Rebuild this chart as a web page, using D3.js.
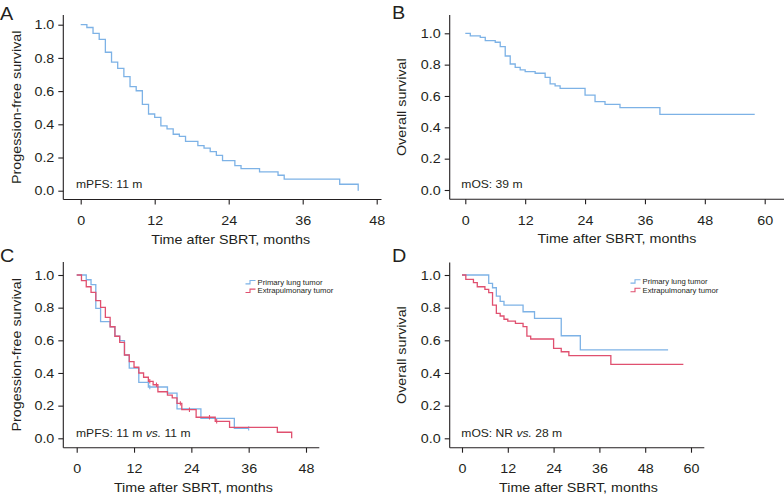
<!DOCTYPE html>
<html><head><meta charset="utf-8">
<script src="https://cdn.jsdelivr.net/npm/d3@7"></script>
<style>
body{margin:0;background:#fff}
svg{display:block}
text{font-family:"Liberation Sans",Arial,Helvetica,sans-serif;fill:#231f20}
</style>
</head><body>
<svg id="chart" width="784" height="498"></svg>
<script>
// ---------------- data ----------------
const yTicks = [0, 0.2, 0.4, 0.6, 0.8, 1.0];
const xTicksPFS = [0, 12, 24, 36, 48];
const xTicksOS = [0, 12, 24, 36, 48, 60];

// A: progression-free survival, all patients
const pfsAllTime = [0, 1, 2, 3, 4, 5, 6, 7, 8, 9, 10, 11, 12, 13, 14, 15, 16, 17, 19, 20, 21, 22, 23, 25, 26, 29, 32, 33, 42, 45];
const pfsAllSurv = [1.0, 0.983, 0.948, 0.912, 0.834, 0.775, 0.737, 0.687, 0.627, 0.602, 0.520, 0.462, 0.442, 0.390, 0.372, 0.340, 0.327, 0.297, 0.271, 0.257, 0.235, 0.213, 0.181, 0.151, 0.133, 0.113, 0.093, 0.070, 0.039, 0.0];
const pfsAllEnd = 45;

// B: overall survival, all patients
const osAllTime = [0, 1, 3, 4, 6, 7, 8, 9, 10, 11, 12, 14, 16, 17, 18, 19, 24, 26, 28, 31, 39];
const osAllSurv = [1.0, 0.983, 0.974, 0.953, 0.943, 0.915, 0.855, 0.804, 0.783, 0.766, 0.755, 0.745, 0.719, 0.677, 0.664, 0.649, 0.606, 0.564, 0.547, 0.526, 0.483];
const osAllEnd = 58;

// C: progression-free survival by tumor type
const pfsLungTime = [0, 2, 3, 4, 5, 7, 8, 9, 10, 11, 13, 15, 19, 21, 26, 33];
const pfsLungSurv = [1.0, 0.971, 0.941, 0.796, 0.714, 0.683, 0.625, 0.598, 0.510, 0.430, 0.343, 0.314, 0.277, 0.180, 0.122, 0.061];
const pfsLungEnd = 36;
const pfsLungCensor = [15.3, 36];

const pfsExtraTime = [0, 1, 2, 3, 4, 5, 6, 7, 8, 9, 10, 11, 12, 13, 14, 15, 16, 17, 19, 20, 21, 22, 25, 29, 32, 42, 45];
const pfsExtraSurv = [1.0, 0.965, 0.928, 0.894, 0.843, 0.802, 0.741, 0.683, 0.625, 0.588, 0.510, 0.469, 0.435, 0.400, 0.374, 0.349, 0.328, 0.285, 0.265, 0.247, 0.214, 0.175, 0.129, 0.104, 0.067, 0.037, 0.0];
const pfsExtraEnd = 45;
const pfsExtraCensor = [15.3, 16.7, 21.7, 23.6, 27.8, 29.3];

// D: overall survival by tumor type
const osLungTime = [0, 7, 8, 9, 10, 11, 16, 19, 26, 31];
const osLungSurv = [1.0, 0.949, 0.922, 0.871, 0.839, 0.816, 0.775, 0.735, 0.628, 0.541];
const osLungEnd = 54;

const osExtraTime = [0, 1, 3, 4, 6, 7, 8, 9, 10, 11, 12, 14, 16, 17, 18, 24, 26, 28, 39];
const osExtraSurv = [1.0, 0.973, 0.953, 0.928, 0.912, 0.892, 0.816, 0.765, 0.749, 0.729, 0.718, 0.704, 0.684, 0.626, 0.608, 0.551, 0.530, 0.506, 0.453];
const osExtraEnd = 58;

const legendLabels = ["Primary lung tumor", "Extrapulmonary tumor"];

// ---------------- styles ----------------
const BLUE = "#7db2e6";
const RED = "#e0506f";
const INK = "#231f20";
const STRETCH = 1.1;

const svg = d3.select("#chart");

function survAt(times, surv, t) {
  const i = d3.bisectRight(times, t) - 1;
  return surv[Math.max(0, i)];
}

const panels = [
  {letter: "A", lx: 0, ly: 20, ytitle: "Progession-free survival",
   xr: [80.7, 376.7], xMax: 48, yr: [190.7, 24.7], frame: {l: 63.3, r: 381.5, t: 15, b: 199.5},
   xTicks: xTicksPFS, ytx: 21, note: ["mPFS: 11 m"], nx: 76, ny: 188,
   series: [{time: pfsAllTime, surv: pfsAllSurv, end: pfsAllEnd, color: BLUE}]},
  {letter: "B", lx: 392, ly: 18.5, ytitle: "Overall survival",
   xr: [465.3, 764.7], xMax: 60, yr: [190, 33.3], frame: {l: 449.7, r: 784, t: 15, b: 199.3},
   xTicks: xTicksOS, ytx: 406, note: ["mOS: 39 m"], nx: 461.3, ny: 188,
   series: [{time: osAllTime, surv: osAllSurv, end: osAllEnd, color: BLUE}]},
  {letter: "C", lx: 0, ly: 262, ytitle: "Progession-free survival",
   xr: [76.7, 306], xMax: 48, yr: [438.3, 275], frame: {l: 63.3, r: 319.3, t: 262, b: 447.7},
   xTicks: xTicksPFS, ytx: 21, note: ["mPFS: 11 m ", "vs.", " 11 m"], nx: 76, ny: 436.7,
   legend: {x: 245.5, y: 282.3},
   series: [{time: pfsLungTime, surv: pfsLungSurv, end: pfsLungEnd, color: BLUE, censor: pfsLungCensor},
            {time: pfsExtraTime, surv: pfsExtraSurv, end: pfsExtraEnd, color: RED, censor: pfsExtraCensor}]},
  {letter: "D", lx: 392, ly: 262, ytitle: "Overall survival",
   xr: [462, 691], xMax: 60, yr: [438.3, 275], frame: {l: 449.7, r: 704.3, t: 262.5, b: 447.7},
   xTicks: xTicksOS, ytx: 406, note: ["mOS: NR ", "vs.", " 28 m"], nx: 461.3, ny: 436.7,
   legend: {x: 630.5, y: 281.5},
   series: [{time: osLungTime, surv: osLungSurv, end: osLungEnd, color: BLUE},
            {time: osExtraTime, surv: osExtraSurv, end: osExtraEnd, color: RED}]}
];

panels.forEach(p => {
  const g = svg.append("g");
  const x = d3.scaleLinear().domain([0, p.xMax]).range(p.xr);
  const y = d3.scaleLinear().domain([0, 1]).range(p.yr);
  const f = p.frame;

  // axis lines (L-shaped frame)
  g.append("line").attr("x1", f.l).attr("x2", f.l).attr("y1", f.t).attr("y2", f.b)
    .attr("stroke", INK).attr("stroke-width", 1.1);
  g.append("line").attr("x1", f.l).attr("x2", f.r).attr("y1", f.b).attr("y2", f.b)
    .attr("stroke", INK).attr("stroke-width", 1.1);

  // y axis ticks
  const ya = g.append("g").attr("transform", `translate(${f.l},0)`)
    .call(d3.axisLeft(y).tickValues(yTicks).tickFormat(d3.format(".1f")).tickSize(5).tickPadding(4).tickSizeOuter(0));
  ya.select(".domain").remove();
  ya.selectAll("line").attr("stroke", INK).attr("stroke-width", 1.1);
  ya.selectAll("text").attr("font-size", 13).attr("font-family", null).style("fill", INK);

  // x axis ticks
  const xa = g.append("g").attr("transform", `translate(0,${f.b})`)
    .call(d3.axisBottom(x).tickValues(p.xTicks).tickSize(5).tickPadding(11).tickSizeOuter(0));
  xa.select(".domain").remove();
  xa.selectAll("line").attr("stroke", INK).attr("stroke-width", 1.1);
  xa.selectAll("text").attr("font-size", 13).attr("font-family", null).style("fill", INK);

  // axis titles
  g.append("text").attr("class", "st")
    .attr("x", x(p.xMax / 2) + 2).attr("y", f.b + 44)
    .attr("text-anchor", "middle").attr("font-size", 13)
    .text("Time after SBRT, months");
  g.append("text").attr("class", "st")
    .attr("transform", `translate(${p.ytx},${(f.t + f.b) / 2}) rotate(-90)`)
    .attr("text-anchor", "middle").attr("font-size", 13)
    .text(p.ytitle);

  // panel letter
  g.append("text").attr("class", "st").attr("x", p.lx).attr("y", p.ly)
    .attr("font-size", 18).text(p.letter);

  // annotation
  const nt = g.append("text").attr("class", "st").attr("x", p.nx).attr("y", p.ny).attr("font-size", 11);
  p.note.forEach((s, i) => {
    nt.append("tspan").attr("font-style", i === 1 ? "italic" : null).text(s);
  });

  // curves
  const line = d3.line().x(d => x(d[0])).y(d => y(d[1])).curve(d3.curveStepAfter);
  p.series.forEach(s => {
    const pts = s.time.map((t, i) => [t, s.surv[i]]);
    pts.push([s.end, s.surv[s.surv.length - 1]]);
    g.append("path").datum(pts).attr("d", line)
      .attr("fill", "none").attr("stroke", s.color).attr("stroke-width", 1.3);
    if (s.censor) {
      g.selectAll(null).data(s.censor).enter().append("line")
        .attr("x1", d => x(d)).attr("x2", d => x(d))
        .attr("y1", d => y(survAt(s.time, s.surv, d)) - 2.2)
        .attr("y2", d => y(survAt(s.time, s.surv, d)) + 2.2)
        .attr("stroke", s.color).attr("stroke-width", 1.1);
    }
  });

  // legend
  if (p.legend) {
    p.series.forEach((s, i) => {
      const ly = p.legend.y + i * 8.6;
      const lx = p.legend.x;
      g.append("path")
        .attr("d", `M${lx},${ly + 1.6}H${lx + 4.5}V${ly - 1.8}H${lx + 10}`)
        .attr("fill", "none").attr("stroke", s.color).attr("stroke-width", 1.1);
      g.append("text").attr("class", "st").attr("x", lx + 12).attr("y", ly + 2.5)
        .attr("font-size", 7).text(legendLabels[i]);
    });
  }
});

// widen glyphs slightly to match the reference typeface
svg.selectAll("text").each(function () {
  const L = this.getComputedTextLength();
  this.setAttribute("textLength", (L * STRETCH).toFixed(2));
  this.setAttribute("lengthAdjust", "spacingAndGlyphs");
});
</script>
</body></html>
